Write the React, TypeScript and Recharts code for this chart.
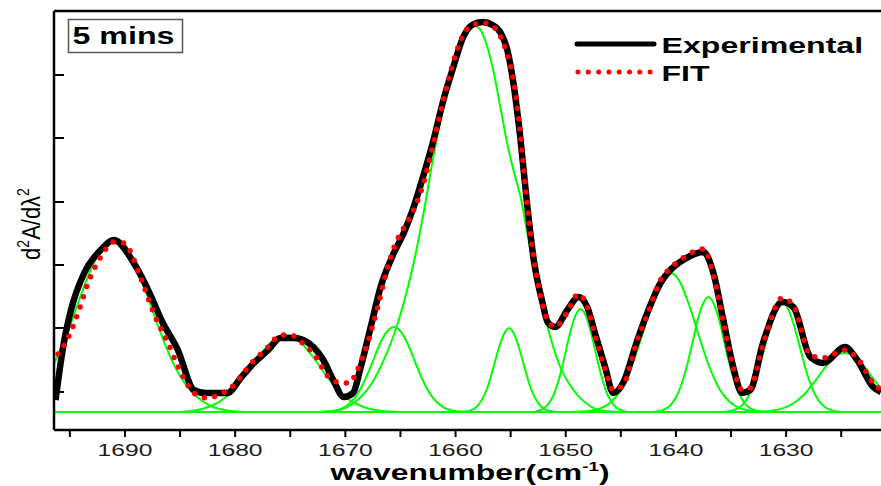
import { LineChart, Line, XAxis, YAxis, ReferenceLine } from "recharts";

// wavenumber (cm-1) and second-derivative signal (arbitrary units, 0 = fit baseline)
const expWn = [
    1696.3, 1695.97, 1695.5, 1694.9, 1693.7, 1692.2, 1691.0, 1689.2, 1687.6, 1686.7, 1685.2, 1683.75,
    1682.7, 1680.7, 1679.5, 1678.3, 1677.0, 1675.9, 1674.7, 1673.8, 1672.9, 1672.0, 1671.1, 1670.15,
    1669.3, 1668.6, 1667.7, 1666.8, 1665.6, 1664.7, 1663.8, 1662.9, 1662.0, 1661.1, 1660.2, 1659.3,
    1658.5, 1657.55, 1656.65, 1655.9, 1655.3, 1654.75, 1654.1, 1653.5, 1652.9, 1652.1, 1651.65, 1650.95,
    1649.85, 1648.85, 1648.05, 1647.3, 1646.4, 1645.7, 1644.8, 1643.5, 1642.6, 1641.4, 1640.5, 1639.35,
    1637.5, 1636.6, 1635.7, 1634.8, 1634.0, 1633.25, 1632.1, 1630.35, 1629.35, 1627.8, 1626.65, 1624.65,
    1623.55, 1622.1, 1621.4,
];
const expVal = [
    12, 39, 72, 102, 139, 162, 172, 149, 115, 92, 62, 22,
    19, 19, 34, 49, 62, 74, 74, 72, 65, 52, 32, 15,
    19, 45, 85, 125, 159, 179, 205, 237, 272, 312, 345, 375,
    387, 390, 387, 379, 362, 329, 272, 207, 152, 109, 90, 85,
    102, 115, 105, 77, 44, 19, 29, 72, 99, 129, 142, 152,
    160, 139, 92, 45, 19, 22, 69, 110, 105, 55, 49, 65,
    52, 25, 20,
];

const fitWn = [
    1696.07, 1695.17, 1694.26, 1693.35, 1692.2, 1691.0, 1690.1, 1688.6, 1687.4, 1686.1, 1684.9, 1683.75,
    1682.6, 1681.5, 1680.3, 1678.5, 1677.0, 1675.9, 1674.7, 1673.9, 1672.6, 1671.7, 1670.7, 1669.6,
    1669.0, 1668.1, 1667.2, 1666.3, 1665.5, 1664.7, 1663.8, 1662.9, 1662.0, 1661.1, 1660.2, 1659.3,
    1658.5, 1657.55, 1656.65, 1655.9, 1655.3, 1654.75, 1654.1, 1653.5, 1652.9, 1652.1, 1651.65, 1650.94,
    1649.85, 1648.85, 1648.05, 1647.3, 1646.4, 1645.7, 1644.8, 1643.5, 1642.6, 1641.4, 1640.5, 1639.35,
    1637.5, 1636.6, 1635.7, 1634.8, 1634.0, 1633.25, 1632.1, 1630.35, 1629.35, 1627.8, 1626.65, 1624.65,
    1623.55, 1622.1, 1621.4,
];
const fitVal = [
    58, 74, 99, 129, 155, 170, 169, 135, 99, 69, 39, 19,
    14, 17, 25, 49, 65, 77, 76, 69, 54, 37, 30, 29,
    40, 65, 99, 139, 167, 184, 202, 229, 269, 312, 350, 377,
    387, 389, 386, 375, 357, 332, 277, 207, 154, 107, 92, 85,
    100, 118, 105, 75, 42, 22, 27, 72, 97, 132, 144, 154,
    163, 137, 90, 45, 22, 24, 67, 114, 107, 57, 54, 62,
    54, 29, 22,
];

// fitted component bands [wavenumber, value]
const band1 = [
    [1696.44, 48], [1695, 86], [1694, 117], [1693, 145], [1692, 165], [1691, 172], [1690, 165], [1689, 145],
    [1688, 117], [1687, 86], [1686, 58], [1685, 36], [1684, 21], [1683, 11], [1682, 5], [1681, 2], [1680, 0.5], [1678, 0],
];
const band2 = [
    [1685, 0], [1684, 1], [1683, 3], [1682, 7], [1681, 13.5], [1680, 24], [1679, 37.5], [1678, 53], [1677, 67],
    [1676, 75.5], [1675.4, 77], [1674.8, 75.5], [1674, 69], [1673, 56], [1672, 40.5], [1671, 26], [1670, 15],
    [1669, 8], [1668, 3.7], [1667, 1.5], [1666, 0.5], [1665, 0],
];
const band3 = [
    [1672.6, 0], [1671.6, 0.5], [1670.6, 2.4], [1670.1, 4.7], [1669.6, 8.7], [1669.1, 14.8], [1668.6, 23.5],
    [1668.1, 35], [1667.6, 48], [1667.1, 62], [1666.6, 74], [1666.1, 82], [1665.6, 85], [1665.1, 82], [1664.6, 74],
    [1664.1, 62], [1663.6, 48], [1663.1, 35], [1662.6, 23.5], [1662.1, 14.8], [1661.6, 8.7], [1661.1, 4.7],
    [1660.6, 2.4], [1659.6, 0.5], [1658.6, 0],
];
const band4 = [
    [1672, 0], [1670.5, 2], [1669.5, 7], [1668.6, 15], [1667.7, 27], [1666.8, 45], [1665.6, 77], [1664.7, 109],
    [1663.8, 149], [1662.9, 199], [1662.0, 256], [1661.1, 306], [1660.2, 348], [1659.3, 377], [1658.5, 387],
    [1657.8, 383], [1657.2, 368], [1656.6, 343], [1655.9, 303], [1655.3, 268], [1654.7, 240], [1654.1, 215],
    [1653.5, 180], [1652.9, 145], [1652.1, 105], [1651.4, 75], [1650.5, 45], [1649.3, 22], [1647.8, 6],
    [1646.5, 1], [1645, 0],
];
const band5 = [
    [1659.5, 0], [1659.15, 0.5], [1658.65, 1.6], [1658.15, 4.6], [1657.65, 11.5], [1657.15, 23], [1656.65, 41],
    [1656.15, 61], [1655.65, 77], [1655.15, 84], [1654.65, 77], [1654.15, 61], [1653.65, 41], [1653.15, 23],
    [1652.65, 11.5], [1652.15, 4.6], [1651.65, 1.6], [1651.15, 0.5], [1650.8, 0],
];
const band6 = [
    [1653, 0], [1652.65, 0.9], [1652.15, 2.7], [1651.65, 7.2], [1651.15, 16], [1650.65, 31.5], [1650.15, 53],
    [1649.65, 77], [1649.15, 95.6], [1648.65, 103], [1648.15, 95.6], [1647.65, 77], [1647.15, 53], [1646.65, 31.5],
    [1646.15, 16], [1645.65, 7.2], [1645.15, 2.7], [1644.65, 0.9], [1644.3, 0],
];
const band7 = [
    [1649.5, 0], [1648.5, 0.4], [1647.5, 1.7], [1646.5, 5.4], [1646, 9], [1645.5, 14.5], [1645, 22], [1644.5, 33],
    [1644, 46], [1643.5, 62], [1643, 79], [1642.5, 97], [1642, 113], [1641.5, 127], [1641, 136], [1640.5, 139],
    [1640, 136], [1639.5, 127], [1639, 113], [1638.5, 97], [1638, 79], [1637.5, 62], [1637, 46], [1636.5, 33],
    [1636, 22], [1635.5, 14.5], [1635, 9], [1634.5, 5.4], [1633.5, 1.7], [1632.5, 0.4], [1631.5, 0],
];
const band8 = [
    [1642.05, 0], [1641.55, 0.9], [1641.05, 2.5], [1640.55, 6.2], [1640.05, 13.5], [1639.55, 26], [1639.05, 44],
    [1638.55, 67], [1638.05, 91], [1637.55, 108], [1637.05, 115], [1636.55, 108], [1636.05, 91], [1635.55, 67],
    [1635.05, 44], [1634.55, 26], [1634.05, 13.5], [1633.55, 6.2], [1633.05, 2.5], [1632.55, 0.9], [1632.05, 0],
];
const band9 = [
    [1635.85, 0], [1635.35, 0.5], [1634.85, 1.6], [1634.35, 3.9], [1633.85, 8.6], [1633.35, 17], [1632.85, 30],
    [1632.35, 48], [1631.85, 69], [1631.35, 89], [1630.85, 104], [1630.35, 110], [1629.85, 104], [1629.35, 89],
    [1628.85, 69], [1628.35, 48], [1627.85, 30], [1627.35, 17], [1626.85, 8.6], [1626.35, 3.9], [1625.85, 1.6],
    [1625.35, 0.5], [1624.85, 0],
];
const band10 = [
    [1632.65, 0], [1631.65, 0.8], [1630.65, 2.6], [1629.65, 6.7], [1629.15, 10], [1628.65, 14.7], [1628.15, 20],
    [1627.65, 27], [1627.15, 34], [1626.65, 42], [1626.15, 48.5], [1625.65, 54], [1625.15, 58], [1624.65, 59],
    [1624.15, 58], [1623.65, 54], [1623.15, 48.5], [1622.65, 42], [1622.15, 34], [1621.65, 27], [1621.39, 23.4],
];
const bands = [band1, band2, band3, band4, band5, band6, band7, band8, band9, band10];

const xTicks = [1695, 1690, 1685, 1680, 1675, 1670, 1665, 1660, 1655, 1650, 1645, 1640, 1635, 1630, 1625];
const yTicks = [20, 84, 147, 210, 274, 337];

const FONT = "'Liberation Sans', Arial, Helvetica, sans-serif";
const GREEN = "#00ff00";

const expData = expWn.map((wn, i) => ({ wn, v: expVal[i] }));
const fitData = fitWn.map((wn, i) => ({ wn, v: fitVal[i] }));

// eslint-disable-next-line @typescript-eslint/no-explicit-any
function XTick({ x, y, payload }: any) {
    if (payload.value % 10 !== 0) return <g />;
    return (
        <g transform={`translate(${x},${y + 17})`}>
            <text transform="scale(1.45,1)" textAnchor="middle" fontFamily={FONT} fontSize={17} fill="#1a1a1a">
                {payload.value}
            </text>
        </g>
    );
}

export default function App() {
    return (
        <div style={{ position: "absolute", left: 0, top: 0, width: 881, height: 486, background: "#fff" }}>
            <LineChart width={881} height={486} margin={{ top: 11, right: 0, bottom: 0, left: 54 }}>
                <XAxis
                    type="number"
                    dataKey="wn"
                    domain={[1621.39, 1696.44]}
                    reversed
                    allowDataOverflow
                    ticks={xTicks}
                    interval={0}
                    height={56}
                    tickSize={7}
                    tick={<XTick />}
                    axisLine={{ stroke: "#000", strokeWidth: 2.5 }}
                    tickLine={{ stroke: "#000", strokeWidth: 2 }}
                />
                <YAxis
                    type="number"
                    domain={[-18, 401]}
                    allowDataOverflow
                    mirror
                    ticks={yTicks}
                    interval={0}
                    tickSize={10}
                    tick={() => <g />}
                    axisLine={{ stroke: "#000", strokeWidth: 2.5 }}
                    tickLine={{ stroke: "#000", strokeWidth: 2 }}
                />
                <ReferenceLine y={401} stroke="#000" strokeWidth={2.5} />
                <ReferenceLine y={0} stroke={GREEN} strokeWidth={2} />
                {bands.map((b, i) => (
                    <Line
                        key={i}
                        data={b.map(([wn, v]) => ({ wn, v }))}
                        dataKey="v"
                        type="monotone"
                        stroke={GREEN}
                        strokeWidth={2}
                        dot={false}
                        isAnimationActive={false}
                    />
                ))}
                <Line
                    data={expData}
                    dataKey="v"
                    type="monotone"
                    stroke="#000"
                    strokeWidth={6.5}
                    strokeLinejoin="round"
                    dot={false}
                    isAnimationActive={false}
                />
                <Line
                    data={fitData}
                    dataKey="v"
                    type="monotone"
                    stroke="#ff0000"
                    strokeWidth={5.5}
                    strokeDasharray="0 10.5"
                    strokeLinecap="round"
                    dot={false}
                    isAnimationActive={false}
                />
            </LineChart>
            <svg
                width={881}
                height={486}
                style={{ position: "absolute", left: 0, top: 0, pointerEvents: "none" }}
                fontFamily={FONT}
            >
                <rect x={68.5} y={19.5} width={114} height={33} fill="none" stroke="#555" strokeWidth={1.5} />
                <text transform="translate(72.5,43.5) scale(1.4,1)" fontSize={23} fontWeight="bold" fill="#000">
                    5 mins
                </text>

                <line x1={577} y1={44} x2={654} y2={44} stroke="#000" strokeWidth={5} strokeLinecap="round" />
                <text transform="translate(661.5,52.5) scale(1.46,1)" fontSize={22} fontWeight="bold" fill="#000">
                    Experimental
                </text>
                <line
                    x1={578}
                    y1={72}
                    x2={651}
                    y2={72}
                    stroke="#ff0000"
                    strokeWidth={5}
                    strokeDasharray="0 10.3"
                    strokeLinecap="round"
                />
                <text transform="translate(661.5,81) scale(1.46,1)" fontSize={22} fontWeight="bold" fill="#000">
                    FIT
                </text>

                <text transform="translate(40,224) scale(1.2,1) rotate(-90)" textAnchor="middle" fontSize={22} fill="#000">
                    d
                    <tspan fontSize={14} dy={-9}>2</tspan>
                    <tspan dy={9}>A/dλ</tspan>
                    <tspan fontSize={14} dy={-9}>2</tspan>
                </text>

                <text transform="translate(470,480) scale(1.45,1)" textAnchor="middle" fontSize={22} fontWeight="bold" fill="#000">
                    wavenumber(cm
                    <tspan fontSize={13} dy={-9}>-1</tspan>
                    <tspan dy={9}>)</tspan>
                </text>
            </svg>
        </div>
    );
}
